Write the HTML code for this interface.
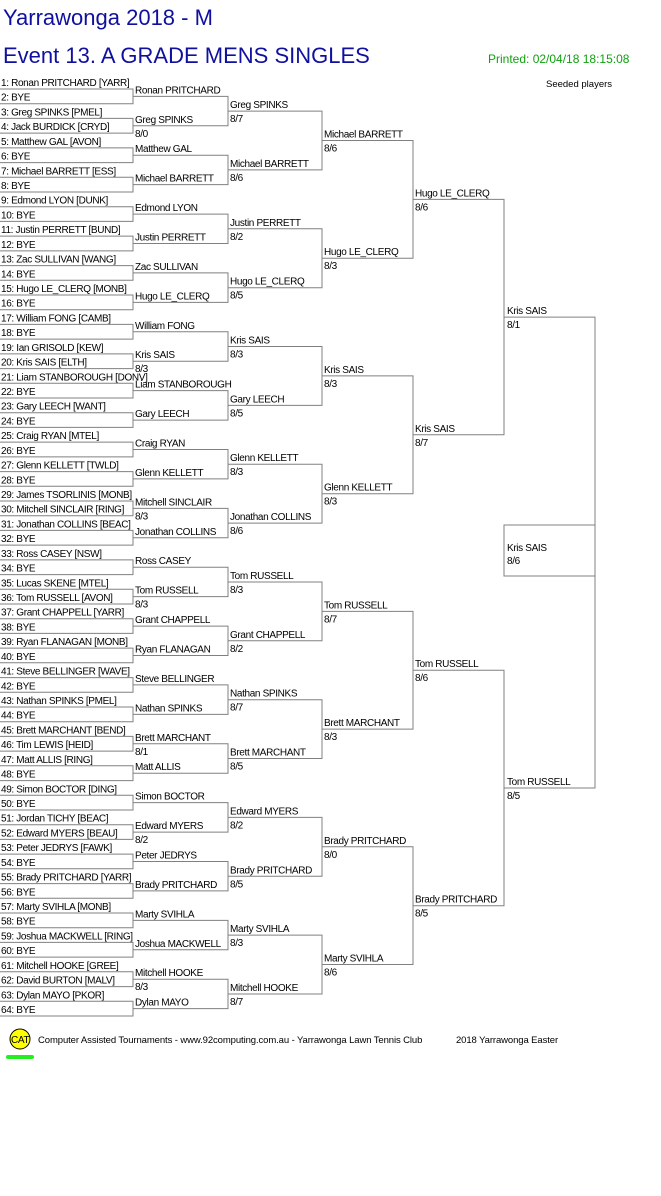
<!DOCTYPE html>
<html><head><meta charset="utf-8"><style>
html,body{margin:0;padding:0;background:#fff;width:661px;height:1196px;overflow:hidden}
svg{display:block}
text{font-family:"Liberation Sans",Arial,sans-serif;font-size:10px;letter-spacing:-0.35px;fill:#000}
.t1{font-size:22px;letter-spacing:0;fill:#1010a0}
.pr{font-size:12px;letter-spacing:0;fill:#10a010}
.sm{font-size:9.5px;letter-spacing:0}
path,rect{fill:none;stroke:#808080;stroke-width:1}
</style></head><body>
<svg width="661" height="1196" viewBox="0 0 661 1196">
<text class="t1" x="3" y="25">Yarrawonga 2018 - M</text>
<text class="t1" x="3" y="63">Event 13. A GRADE MENS SINGLES</text>
<text class="pr" x="488" y="63">Printed: 02/04/18 18:15:08</text>
<text class="sm" x="546" y="87">Seeded players</text>

<path d="M0 89H133V103.7H0M0 118.4H133V133.1H0M0 147.9H133V162.6H0M0 177.3H133V192H0M0 206.7H133V221.4H0M0 236.1H133V250.9H0M0 265.6H133V280.3H0M0 295H133V309.7H0M0 324.4H133V339.1H0M0 353.9H133V368.6H0M0 383.3H133V398H0M0 412.7H133V427.4H0M0 442.1H133V456.9H0M0 471.6H133V486.3H0M0 501H133V515.7H0M0 530.4H133V545.1H0M0 559.9H133V574.6H0M0 589.3H133V604H0M0 618.7H133V633.4H0M0 648.1H133V662.8H0M0 677.6H133V692.3H0M0 707H133V721.7H0M0 736.4H133V751.1H0M0 765.8H133V780.6H0M0 795.3H133V810H0M0 824.7H133V839.4H0M0 854.1H133V868.8H0M0 883.6H133V898.3H0M0 913H133V927.7H0M0 942.4H133V957.1H0M0 971.8H133V986.6H0M0 1001.3H133V1016H0"/>
<path d="M133 96.4H228V125.8H133M133 155.2H228V184.6H133M133 214.1H228V243.5H133M133 272.9H228V302.4H133M133 331.8H228V361.2H133M133 390.6H228V420.1H133M133 449.5H228V478.9H133M133 508.4H228V537.8H133M133 567.2H228V596.6H133M133 626.1H228V655.5H133M133 684.9H228V714.4H133M133 743.8H228V773.2H133M133 802.6H228V832.1H133M133 861.5H228V890.9H133M133 920.4H228V949.8H133M133 979.2H228V1008.6H133"/>
<path d="M228 111.1H322V169.9H228M228 228.8H322V287.7H228M228 346.5H322V405.4H228M228 464.2H322V523.1H228M228 582H322V640.8H228M228 699.7H322V758.5H228M228 817.4H322V876.3H228M228 935.1H322V994H228"/>
<path d="M322 140.5H413V258.2H322M322 375.9H413V493.7H322M322 611.4H413V729.1H322M322 846.8H413V964.5H322"/>
<path d="M413 199.4H504V434.8H413M413 670.2H504V905.7H413"/>
<path d="M504 317.1H595V788H504"/>
<rect x="504" y="525" width="91" height="51"/>

<text x="1" y="86">1: Ronan PRITCHARD [YARR]</text>
<text x="1" y="100.7">2: BYE</text>
<text x="1" y="115.4">3: Greg SPINKS [PMEL]</text>
<text x="1" y="130.1">4: Jack BURDICK [CRYD]</text>
<text x="1" y="144.9">5: Matthew GAL [AVON]</text>
<text x="1" y="159.6">6: BYE</text>
<text x="1" y="174.3">7: Michael BARRETT [ESS]</text>
<text x="1" y="189">8: BYE</text>
<text x="1" y="203.7">9: Edmond LYON [DUNK]</text>
<text x="1" y="218.4">10: BYE</text>
<text x="1" y="233.1">11: Justin PERRETT [BUND]</text>
<text x="1" y="247.9">12: BYE</text>
<text x="1" y="262.6">13: Zac SULLIVAN [WANG]</text>
<text x="1" y="277.3">14: BYE</text>
<text x="1" y="292">15: Hugo LE_CLERQ [MONB]</text>
<text x="1" y="306.7">16: BYE</text>
<text x="1" y="321.4">17: William FONG [CAMB]</text>
<text x="1" y="336.1">18: BYE</text>
<text x="1" y="350.9">19: Ian GRISOLD [KEW]</text>
<text x="1" y="365.6">20: Kris SAIS [ELTH]</text>
<text x="1" y="380.3">21: Liam STANBOROUGH [DONV]</text>
<text x="1" y="395">22: BYE</text>
<text x="1" y="409.7">23: Gary LEECH [WANT]</text>
<text x="1" y="424.4">24: BYE</text>
<text x="1" y="439.1">25: Craig RYAN [MTEL]</text>
<text x="1" y="453.9">26: BYE</text>
<text x="1" y="468.6">27: Glenn KELLETT [TWLD]</text>
<text x="1" y="483.3">28: BYE</text>
<text x="1" y="498">29: James TSORLINIS [MONB]</text>
<text x="1" y="512.7">30: Mitchell SINCLAIR [RING]</text>
<text x="1" y="527.4">31: Jonathan COLLINS [BEAC]</text>
<text x="1" y="542.1">32: BYE</text>
<text x="1" y="556.9">33: Ross CASEY [NSW]</text>
<text x="1" y="571.6">34: BYE</text>
<text x="1" y="586.3">35: Lucas SKENE [MTEL]</text>
<text x="1" y="601">36: Tom RUSSELL [AVON]</text>
<text x="1" y="615.7">37: Grant CHAPPELL [YARR]</text>
<text x="1" y="630.4">38: BYE</text>
<text x="1" y="645.1">39: Ryan FLANAGAN [MONB]</text>
<text x="1" y="659.8">40: BYE</text>
<text x="1" y="674.6">41: Steve BELLINGER [WAVE]</text>
<text x="1" y="689.3">42: BYE</text>
<text x="1" y="704">43: Nathan SPINKS [PMEL]</text>
<text x="1" y="718.7">44: BYE</text>
<text x="1" y="733.4">45: Brett MARCHANT [BEND]</text>
<text x="1" y="748.1">46: Tim LEWIS [HEID]</text>
<text x="1" y="762.8">47: Matt ALLIS [RING]</text>
<text x="1" y="777.6">48: BYE</text>
<text x="1" y="792.3">49: Simon BOCTOR [DING]</text>
<text x="1" y="807">50: BYE</text>
<text x="1" y="821.7">51: Jordan TICHY [BEAC]</text>
<text x="1" y="836.4">52: Edward MYERS [BEAU]</text>
<text x="1" y="851.1">53: Peter JEDRYS [FAWK]</text>
<text x="1" y="865.8">54: BYE</text>
<text x="1" y="880.6">55: Brady PRITCHARD [YARR]</text>
<text x="1" y="895.3">56: BYE</text>
<text x="1" y="910">57: Marty SVIHLA [MONB]</text>
<text x="1" y="924.7">58: BYE</text>
<text x="1" y="939.4">59: Joshua MACKWELL [RING]</text>
<text x="1" y="954.1">60: BYE</text>
<text x="1" y="968.8">61: Mitchell HOOKE [GREE]</text>
<text x="1" y="983.6">62: David BURTON [MALV]</text>
<text x="1" y="998.3">63: Dylan MAYO [PKOR]</text>
<text x="1" y="1013">64: BYE</text>

<text x="135" y="93.4">Ronan PRITCHARD</text>
<text x="135" y="122.8">Greg SPINKS</text><text x="135" y="136.8">8/0</text>
<text x="135" y="152.2">Matthew GAL</text>
<text x="135" y="181.6">Michael BARRETT</text>
<text x="135" y="211.1">Edmond LYON</text>
<text x="135" y="240.5">Justin PERRETT</text>
<text x="135" y="269.9">Zac SULLIVAN</text>
<text x="135" y="299.4">Hugo LE_CLERQ</text>
<text x="135" y="328.8">William FONG</text>
<text x="135" y="358.2">Kris SAIS</text><text x="135" y="372.2">8/3</text>
<text x="135" y="387.6">Liam STANBOROUGH</text>
<text x="135" y="417.1">Gary LEECH</text>
<text x="135" y="446.5">Craig RYAN</text>
<text x="135" y="475.9">Glenn KELLETT</text>
<text x="135" y="505.4">Mitchell SINCLAIR</text><text x="135" y="519.4">8/3</text>
<text x="135" y="534.8">Jonathan COLLINS</text>
<text x="135" y="564.2">Ross CASEY</text>
<text x="135" y="593.6">Tom RUSSELL</text><text x="135" y="607.6">8/3</text>
<text x="135" y="623.1">Grant CHAPPELL</text>
<text x="135" y="652.5">Ryan FLANAGAN</text>
<text x="135" y="681.9">Steve BELLINGER</text>
<text x="135" y="711.4">Nathan SPINKS</text>
<text x="135" y="740.8">Brett MARCHANT</text><text x="135" y="754.8">8/1</text>
<text x="135" y="770.2">Matt ALLIS</text>
<text x="135" y="799.6">Simon BOCTOR</text>
<text x="135" y="829.1">Edward MYERS</text><text x="135" y="843.1">8/2</text>
<text x="135" y="858.5">Peter JEDRYS</text>
<text x="135" y="887.9">Brady PRITCHARD</text>
<text x="135" y="917.4">Marty SVIHLA</text>
<text x="135" y="946.8">Joshua MACKWELL</text>
<text x="135" y="976.2">Mitchell HOOKE</text><text x="135" y="990.2">8/3</text>
<text x="135" y="1005.6">Dylan MAYO</text>

<text x="230" y="108.1">Greg SPINKS</text><text x="230" y="122.1">8/7</text>
<text x="230" y="166.9">Michael BARRETT</text><text x="230" y="180.9">8/6</text>
<text x="230" y="225.8">Justin PERRETT</text><text x="230" y="239.8">8/2</text>
<text x="230" y="284.7">Hugo LE_CLERQ</text><text x="230" y="298.7">8/5</text>
<text x="230" y="343.5">Kris SAIS</text><text x="230" y="357.5">8/3</text>
<text x="230" y="402.4">Gary LEECH</text><text x="230" y="416.4">8/5</text>
<text x="230" y="461.2">Glenn KELLETT</text><text x="230" y="475.2">8/3</text>
<text x="230" y="520.1">Jonathan COLLINS</text><text x="230" y="534.1">8/6</text>
<text x="230" y="579">Tom RUSSELL</text><text x="230" y="593">8/3</text>
<text x="230" y="637.8">Grant CHAPPELL</text><text x="230" y="651.8">8/2</text>
<text x="230" y="696.7">Nathan SPINKS</text><text x="230" y="710.7">8/7</text>
<text x="230" y="755.5">Brett MARCHANT</text><text x="230" y="769.5">8/5</text>
<text x="230" y="814.4">Edward MYERS</text><text x="230" y="828.4">8/2</text>
<text x="230" y="873.3">Brady PRITCHARD</text><text x="230" y="887.3">8/5</text>
<text x="230" y="932.1">Marty SVIHLA</text><text x="230" y="946.1">8/3</text>
<text x="230" y="991">Mitchell HOOKE</text><text x="230" y="1005">8/7</text>

<text x="324" y="137.5">Michael BARRETT</text><text x="324" y="151.5">8/6</text>
<text x="324" y="255.2">Hugo LE_CLERQ</text><text x="324" y="269.2">8/3</text>
<text x="324" y="372.9">Kris SAIS</text><text x="324" y="386.9">8/3</text>
<text x="324" y="490.7">Glenn KELLETT</text><text x="324" y="504.7">8/3</text>
<text x="324" y="608.4">Tom RUSSELL</text><text x="324" y="622.4">8/7</text>
<text x="324" y="726.1">Brett MARCHANT</text><text x="324" y="740.1">8/3</text>
<text x="324" y="843.8">Brady PRITCHARD</text><text x="324" y="857.8">8/0</text>
<text x="324" y="961.5">Marty SVIHLA</text><text x="324" y="975.5">8/6</text>

<text x="415" y="196.4">Hugo LE_CLERQ</text><text x="415" y="210.4">8/6</text>
<text x="415" y="431.8">Kris SAIS</text><text x="415" y="445.8">8/7</text>
<text x="415" y="667.2">Tom RUSSELL</text><text x="415" y="681.2">8/6</text>
<text x="415" y="902.7">Brady PRITCHARD</text><text x="415" y="916.7">8/5</text>

<text x="507" y="314.1">Kris SAIS</text><text x="507" y="328.1">8/1</text>
<text x="507" y="785">Tom RUSSELL</text><text x="507" y="799">8/5</text>

<text x="507" y="551">Kris SAIS</text><text x="507" y="564">8/6</text>

<circle cx="20" cy="1039" r="10" fill="#ffff00" stroke="#000" stroke-width="1"/>
<text x="11" y="1043" style="font-size:10px;letter-spacing:-0.3px">CAT</text>
<rect x="6" y="1055" width="28" height="4" rx="2" style="fill:#22ee22;stroke:none"/>
<text x="38" y="1043" style="font-size:9.5px;letter-spacing:-0.1px">Computer Assisted Tournaments - www.92computing.com.au -  Yarrawonga Lawn Tennis Club</text>
<text x="456" y="1043" style="font-size:9.5px;letter-spacing:-0.1px">2018 Yarrawonga Easter</text>
</svg>
</body></html>
